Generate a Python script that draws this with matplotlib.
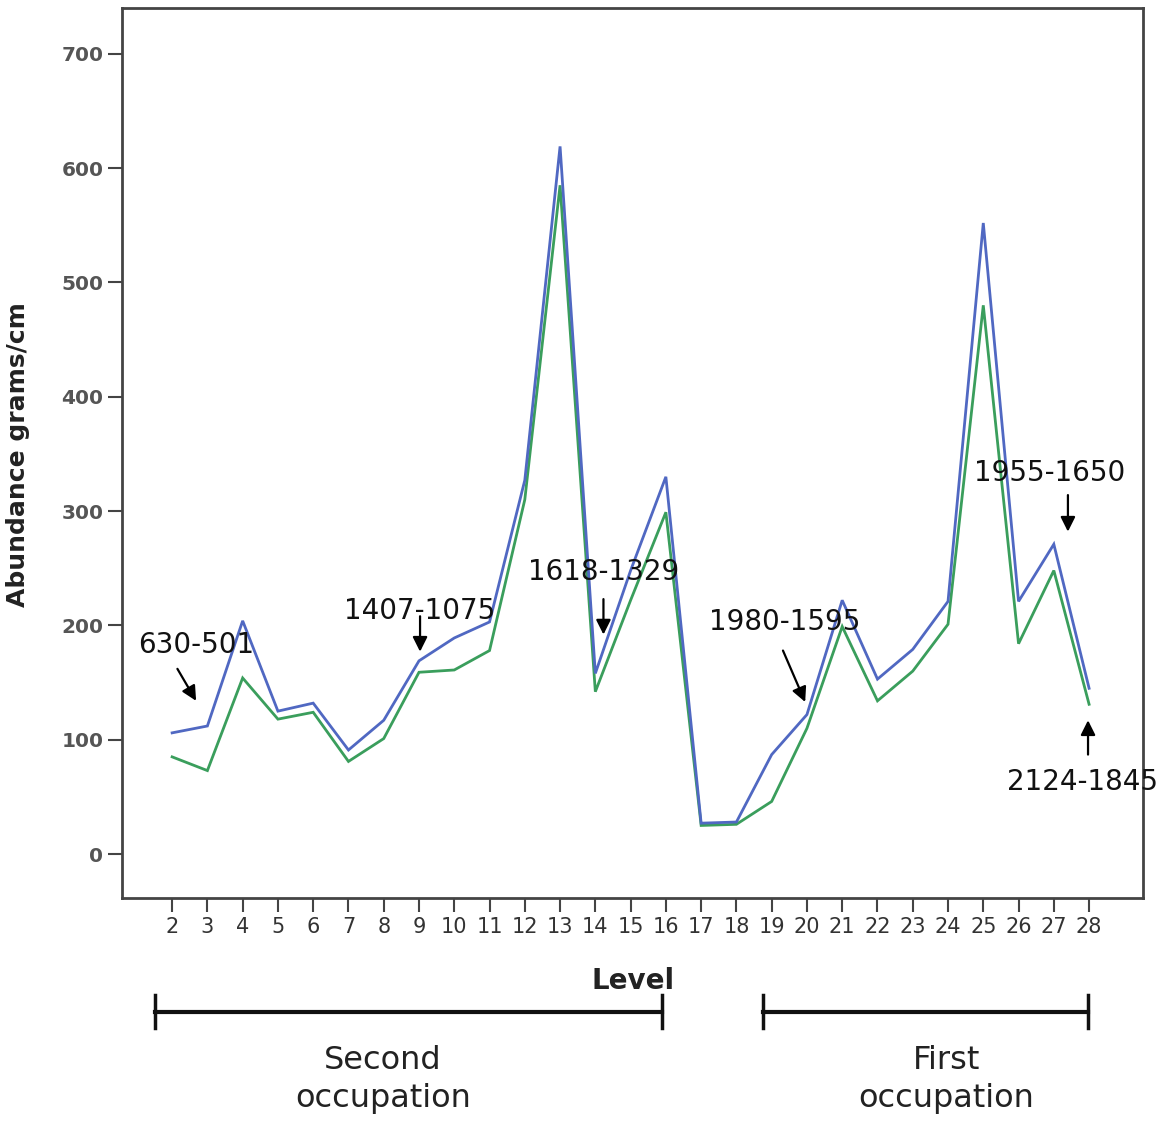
import matplotlib
matplotlib.use("Agg")
import matplotlib.pyplot as plt
import matplotlib.transforms as mtransforms

levels = list(range(2, 29))
series_blue = [106, 112, 204, 125, 132, 91, 117, 169, 189, 203, 327, 619, 158,
               248, 330, 27, 28, 87, 122, 222, 153, 179, 221, 552, 221, 271, 145]
series_green = [85, 73, 154, 118, 124, 81, 101, 159, 161, 178, 310, 585, 142,
                222, 299, 25, 26, 46, 110, 199, 134, 160, 201, 480, 184, 248, 131]

# annotation labels: (text, text position, arrow tail, arrow head)
annotations = [
    ("630-501", (2.68, 183), (2.15, 162), (2.68, 134)),
    ("1407-1075", (9.03, 213), (9.03, 208), (9.03, 177)),
    ("1618-1329", (14.23, 247), (14.23, 223), (14.23, 192)),
    ("1980-1595", (19.38, 203), (19.32, 178), (19.95, 133)),
    ("1955-1650", (26.87, 333), (27.40, 314), (27.40, 282)),
    ("2124-1845", (27.80, 63), (27.97, 87), (27.97, 117)),
]

blue = "#5068c2"
green = "#3a9e5c"

fig = plt.figure(figsize=(11.69, 11.22), dpi=100)
ax = fig.add_axes([0.1044, 0.1996, 0.8734, 0.7932])

ax.plot(levels, series_blue, color=blue, lw=2.0, solid_joinstyle="miter", zorder=3)
ax.plot(levels, series_green, color=green, lw=2.0, solid_joinstyle="miter", zorder=2)

ax.set_xlim(0.58, 29.53)
ax.set_ylim(-38.5, 740)
ax.set_xticks(levels)
ax.set_xticklabels([str(v) for v in levels])
ax.set_yticks(range(0, 701, 100))

for s in ax.spines.values():
    s.set_color("#444444")
    s.set_linewidth(2.0)

ax.tick_params(axis="both", direction="out", length=10, width=1.5, color="#444444")
ax.tick_params(axis="x", labelsize=15, labelcolor="#333333", pad=4)
for lab in ax.get_yticklabels():
    lab.set_fontsize(14.5)
    lab.set_fontweight("bold")
    lab.set_color("#555555")

ax.set_ylabel("Abundance grams/cm", fontsize=18, fontweight="bold", color="#222222")
ax.yaxis.set_label_coords(-0.09, 0.498)
ax.set_xlabel("Level", fontsize=20, fontweight="bold", color="#222222")
ax.xaxis.set_label_coords(0.5005, -0.077)

for txt, tpos, tail, head in annotations:
    ax.text(tpos[0], tpos[1], txt, fontsize=20, ha="center", va="center",
            color="#111111", clip_on=False, zorder=5)
    ax.annotate("", xy=head, xytext=tail,
                arrowprops=dict(arrowstyle="-|>", color="black", lw=1.6,
                                mutation_scale=22, shrinkA=0, shrinkB=0),
                annotation_clip=False, zorder=6)

# occupation brackets (x in data, y in figure coordinates)
trans = mtransforms.blended_transform_factory(ax.transData, fig.transFigure)
brackets = [(1.52, 15.89, 7.98, "Second\noccupation"),
            (18.76, 27.97, 23.95, "First\noccupation")]
yline = 0.098
for x0, x1, xc, label in brackets:
    fig.add_artist(plt.Line2D([x0, x1], [yline, yline], transform=trans,
                              color="#111111", lw=3.0))
    for xe in (x0, x1):
        fig.add_artist(plt.Line2D([xe, xe], [0.0838, 0.1132], transform=trans,
                                  color="#111111", lw=2.5))
    fig.text(xc, 0.038, label, transform=trans, ha="center", va="center",
             fontsize=23, linespacing=1.3, color="#222222")

fig.savefig("out.png", dpi=100)
